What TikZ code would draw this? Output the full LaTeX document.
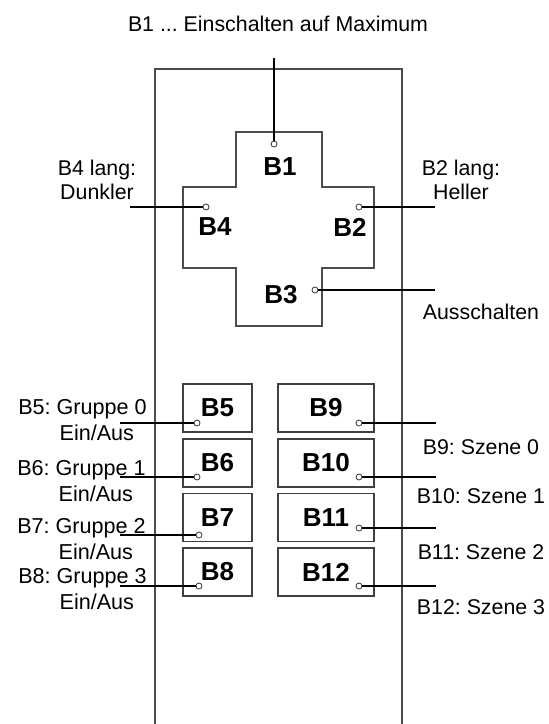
\documentclass[tikz,border=0pt]{standalone}
\usepackage{fontspec}
\setmainfont{Liberation Sans}
\usetikzlibrary{positioning}

\tikzset{
  lbl/.style={font=\fontsize{16}{17.5}\selectfont\frenchspacing, align=center, inner sep=0pt},
  grp/.style={lbl, font=\fontsize{16.2}{19}\selectfont\frenchspacing, align=left, anchor=west},
  keyname/.style={font=\fontsize{19.5}{22}\selectfont\bfseries, inner sep=0pt},
  keybox/.style={keyname, draw=black!75, line width=1.1pt, minimum width=51.75pt, minimum height=36pt},
  dot/.style={circle, draw=black!80, fill=white, line width=0.6pt, inner sep=0pt, minimum size=4.5pt},
  lead/.style={line width=0.8pt},
  housing/.style={draw=black!70, line width=1.4pt},
}

\begin{document}
\begin{tikzpicture}[x=0.75pt,y=-0.75pt]
  \useasboundingbox (0,0) rectangle (549,724);

  % housing and cross
  \draw[housing] (155,724) -- (155,69) -- (402,69) -- (402,724);
  \draw[housing, line width=1.3pt] (236,132) -- (322,132) -- (322,187) -- (374,187) -- (374,268)
    -- (322,268) -- (322,326) -- (236,326) -- (236,268) -- (183,268) -- (183,187) -- (236,187) -- cycle;
  \node[keyname] (k1) at (280,167) {B1};
  \node[keyname] (k4) at (215,227) {B4};
  \node[keyname] (k2) at (350,227) {B2};
  \node[keyname] (k3) at (281,295) {B3};

  % lower keys
  \foreach \n/\y in {5/408,6/463,7/517.5,8/572}
    \node[keybox] (k\n) at (217.5,\y) {B\n};
  \foreach \n/\y in {9/408,10/463,11/517.5,12/572}
    \node[keybox, minimum width=72pt] (k\n) at (326,\y) {B\n};

  % free ends of the leads
  \coordinate (e1) at (274,58);
  \coordinate (e4) at (130,207);
  \coordinate (e2) at (435,207);
  \coordinate (e3) at (435,290);
  \foreach \n/\y in {5/423,6/477,7/535,8/586}
    \coordinate (e\n) at (120,\y);
  \foreach \n/\y in {9/423,10/477,11/528,12/586}
    \coordinate (e\n) at (436,\y);

  % contact dots
  \foreach \n/\x/\y in {1/274/144,4/206/207,2/359/207,3/315/290,
      5/197/423,6/197/477,7/199/535,8/199/586,
      9/359/423,10/359/477,11/359/528,12/359/586}
    \node[dot] (d\n) at (\x,\y) {};

  \foreach \n in {1,...,12}
    \draw[lead] (d\n) -- (e\n);

  % labels
  \node[lbl] (t1) at (278,24) {B1 ... Einschalten auf Maximum};
  \node[lbl] (t4) at (97,180) {B4 lang:\\Dunkler};
  \node[lbl] (t2) at (461,180) {B2 lang:\\Heller};
  \node[lbl] (t3) at (481,312) {Ausschalten};
  \node[grp] (t5) at (18,420) {B5: Gruppe 0\\\hspace*{31pt}Ein/Aus};
  \node[grp] (t6) at (17,481) {B6: Gruppe 1\\\hspace*{31pt}Ein/Aus};
  \node[grp] (t7) at (17,539) {B7: Gruppe 2\\\hspace*{31pt}Ein/Aus};
  \node[grp] (t8) at (18,589) {B8: Gruppe 3\\\hspace*{31pt}Ein/Aus};
  \node[lbl] (t9) at (481,447) {B9: Szene 0};
  \node[lbl] (t10) at (481,496) {B10: Szene 1};
  \node[lbl] (t11) at (481,552) {B11: Szene 2};
  \node[lbl] (t12) at (481,607) {B12: Szene 3};
\end{tikzpicture}
\end{document}
